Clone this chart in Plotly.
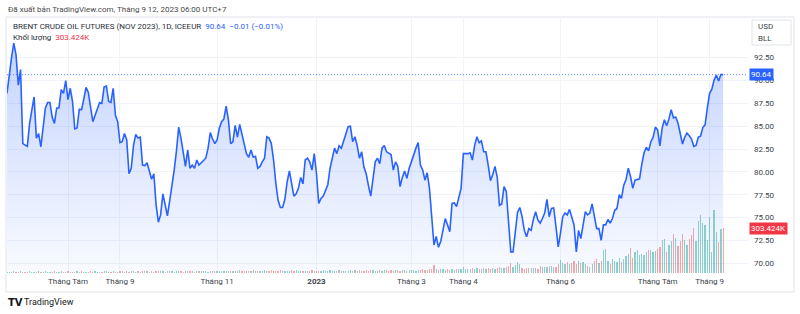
import plotly.graph_objects as go
import pandas as pd

# ---------------- data ----------------
start_date = "2022-06-23"   # first visible trading day (daily bars, Mon-Fri)

close = [
    88.6, 90.8, 92.5, 94.1, 92.8, 89.5, 91.2, 83.1, 82.9, 82.8,
    85.3, 86.8, 88.2, 83.7, 84.2, 82.75, 84.9, 87.0, 87.6, 87.6,
    86.0, 85.3, 87.0, 87.0, 89.0, 88.6, 90.0, 87.9, 89.15, 87.7,
    84.7, 84.8, 86.85, 86.8, 88.0, 89.25, 88.7, 87.1, 85.5, 86.2,
    86.8, 87.6, 87.5, 89.3, 89.4, 87.7, 87.6, 89.15, 86.2, 85.5,
    83.2, 83.3, 84.2, 83.5, 79.8, 80.4, 82.9, 84.1, 83.7, 83.8,
    80.75, 80.7, 81.0, 80.0, 79.2, 79.8, 76.4, 74.5, 75.3, 77.6,
    76.5, 75.2, 76.8, 78.4, 80.2, 82.3, 84.9, 83.7, 82.0, 80.6,
    82.4, 80.4, 80.75, 80.4, 81.3, 80.75, 81.0, 81.2, 81.5, 82.6,
    84.3, 83.6, 83.1, 83.5, 84.8, 85.5, 85.8, 87.2, 85.7, 83.1,
    83.3, 85.1, 83.8, 85.2, 84.0, 83.0, 82.0, 81.6, 82.4, 81.6,
    81.7, 80.4, 80.6, 81.1, 81.5, 83.85, 83.7, 83.1, 81.3, 78.75,
    76.9, 76.1, 76.1, 77.0, 78.9, 80.1, 78.75, 77.35, 77.6, 78.2,
    79.4, 78.7, 81.3, 81.5, 81.1, 80.2, 82.0, 79.8, 76.55, 77.1,
    77.35, 78.0, 78.6, 80.4, 81.65, 82.6, 82.0, 82.85, 82.6, 83.4,
    84.4, 84.95, 85.0, 83.3, 83.85, 82.9, 81.5, 82.2, 80.5, 79.8,
    78.5, 77.35, 79.2, 81.1, 81.5, 80.9, 82.6, 82.9, 82.2, 82.0,
    81.9, 80.2, 81.1, 80.6, 78.4, 79.4, 80.1, 79.3, 80.4, 81.1,
    81.9, 82.6, 83.2, 80.75, 80.2, 79.1, 79.9, 78.2, 75.1, 72.0,
    72.95, 71.75, 72.4, 73.8, 74.9, 74.2, 73.45, 76.55, 76.6, 76.2,
    77.1, 78.2, 82.0, 82.0, 82.0, 82.1, 81.3, 82.9, 83.85, 83.2,
    83.4, 82.2, 82.2, 80.75, 79.05, 79.7, 80.6, 79.4, 76.35, 76.5,
    78.4, 77.85, 74.0, 71.25, 71.25, 73.6, 75.6, 76.1, 75.1, 73.6,
    72.9, 73.8, 73.6, 74.8, 75.65, 74.75, 74.4, 74.9, 75.5, 77.0,
    75.1, 76.0, 76.05, 74.0, 71.8, 73.3, 75.1, 75.5, 75.3, 75.9,
    75.1, 74.2, 71.25, 73.6, 72.7, 74.4, 75.65, 75.3, 75.5, 76.5,
    75.1, 73.8, 73.8, 72.5, 74.2, 74.2, 74.8, 74.4, 74.9, 75.8,
    76.0, 77.5, 77.1, 78.55, 79.15, 80.4, 79.5, 78.2, 79.1, 79.15,
    79.25, 80.85, 82.1, 82.7, 82.3, 83.3, 83.8, 84.9, 84.6, 82.85,
    84.8, 85.7, 85.05, 85.8, 86.8, 85.9, 86.0, 85.35, 84.25, 83.05,
    83.8, 84.25, 83.95, 83.6, 82.8, 82.9, 83.8, 83.9, 84.85, 85.15,
    87.0, 88.6, 89.05, 90.05, 90.6, 89.95, 90.65, 90.64,
]

volume_k = [
    8, 10, 9, 11, 7, 9, 12, 8, 10, 9,
    11, 8, 9, 10, 12, 8, 9, 11, 10, 8,
    9, 12, 10, 8, 11, 9, 10, 12, 9, 8,
    10, 11, 9, 12, 10, 8, 9, 11, 10, 12,
    9, 10, 8, 11, 12, 9, 10, 11, 8, 10,
    11, 12, 9, 13, 10, 12, 11, 9, 14, 10,
    12, 11, 13, 9, 12, 10, 14, 11, 12, 13,
    10, 11, 14, 12, 9, 13, 11, 12, 10, 14,
    12, 11, 13, 10, 12, 14, 11, 13, 12, 10,
    14, 12, 13, 11, 15, 12, 13, 14, 11, 12,
    14, 16, 12, 18, 15, 13, 17, 14, 16, 19,
    13, 15, 17, 14, 18, 16, 15, 19, 14, 17,
    16, 18, 15, 13, 17, 16, 19, 14, 18, 15,
    13, 16, 17, 15, 14, 18, 12, 16, 17, 15,
    18, 14, 16, 19, 15, 17, 14, 18, 16, 15,
    17, 15, 19, 16, 18, 14, 20, 17, 15, 19,
    16, 18, 21, 15, 17, 19, 16, 20, 18, 15,
    19, 17, 22, 18, 16, 20, 19, 17, 21, 18,
    20, 16, 22, 19, 24, 20, 23, 27, 25, 54,
    30, 22, 26, 24, 21, 25, 23, 27, 22, 26,
    24, 28, 40, 30, 26, 29, 33, 27, 31, 25,
    29, 34, 28, 32, 30, 36, 29, 33, 38, 31,
    35, 42, 45, 68, 40, 52,
    72, 61, 32, 27, 36, 36, 32, 36, 36, 29,
    45, 38, 41, 38, 45, 50, 41, 38, 61, 88,
    66, 61, 77, 61, 66, 84, 61, 79, 66, 72,
    61, 50, 43, 61, 84, 95, 68, 84, 158, 163,
    84, 61, 95, 84, 72, 100, 77, 95, 118, 129,
    167, 100, 140, 158, 122, 129, 122, 145, 158, 156,
    145, 152, 163, 174, 224, 231, 140, 190, 220, 265,
    235, 186, 220, 265, 224, 190, 231, 258, 306, 220,
    355, 396, 339, 326, 226, 378, 140, 430, 281, 213,
    299, 303.424,
]

month_ticks = ["2022-08-01", "2022-09-01", "2022-11-01", "2023-01-02", "2023-03-01",
               "2023-04-03", "2023-06-01", "2023-08-01", "2023-09-01"]
month_labels = ["Tháng Tám", "Tháng 9", "Tháng 11", "<b>2023</b>", "Tháng 3",
                "Tháng 4", "Tháng 6", "Tháng Tám", "Tháng 9"]
price_ticks = [70.0, 72.5, 75.0, 77.5, 80.0, 82.5, 85.0, 87.5, 90.0, 92.5]

change_abs = -0.01
change_pct = -0.01

# ---------------- figure ----------------
W, H = 800, 314
L, R, T, B = 7, 52, 18, 41
PW, PH = W - L - R, H - T - B

def fx(px):
    return (px - L) / PW

def fy(py):
    return (H - B - py) / PH

BLUE = "#2962ff"
TEAL = "rgba(38,166,154,0.5)"
RED = "rgba(239,83,80,0.5)"
GRID = "#f0f3fa"
TXT = "#3b3f4a"
FONT = "Roboto, Liberation Sans, sans-serif"

dates = pd.bdate_range(start_date, periods=len(close))
vol_colors = [TEAL if i == 0 or close[i] >= close[i - 1] else RED for i in range(len(close))]

fig = go.Figure()

fig.add_trace(go.Scatter(
    x=dates, y=close, mode="lines",
    line=dict(color=BLUE, width=1.6),
    fill="tozeroy",
    fillgradient=dict(type="vertical", start=68.9, stop=max(close),
                      colorscale=[[0, "rgba(41,98,255,0.03)"], [1, "rgba(41,98,255,0.27)"]]),
    yaxis="y", hoverinfo="skip",
))

fig.add_trace(go.Bar(
    x=dates, y=volume_k, marker=dict(color=vol_colors, line=dict(width=0)),
    width=0.55 * 86400000, yaxis="y2", hoverinfo="skip",
))

last_price = close[-1]
last_vol = volume_k[-1]

fig.update_layout(
    width=W, height=H,
    margin=dict(l=L, r=R, t=T, b=B),
    paper_bgcolor="white", plot_bgcolor="white",
    showlegend=False,
    font=dict(family=FONT, size=8, color=TXT),
    xaxis=dict(
        type="date",
        rangebreaks=[dict(bounds=["sat", "mon"])],
        range=[dates[0], "2023-09-26"],
        tickvals=month_ticks, ticktext=month_labels,
        showgrid=True, gridcolor=GRID, gridwidth=1,
        ticks="", showline=False, zeroline=False,
        tickfont=dict(size=8, color=TXT),
        ticklabelstandoff=2,
    ),
    yaxis=dict(
        side="right", range=[68.94, 96.84],
        tickvals=price_ticks, tickformat=".2f",
        showgrid=True, gridcolor=GRID, gridwidth=1,
        ticks="", showline=False, zeroline=False,
        tickfont=dict(size=8, color=TXT),
        ticklabelstandoff=5,
    ),
    yaxis2=dict(
        overlaying="y", range=[0, 1731], visible=False,
    ),
    bargap=0,
)

shapes = []
# outer frame
shapes.append(dict(type="rect", xref="paper", yref="paper",
                   x0=fx(6), x1=fx(794), y0=fy(17), y1=fy(292),
                   line=dict(color="#e0e3eb", width=1), fillcolor="rgba(0,0,0,0)", layer="below"))
# last price dotted line
shapes.append(dict(type="line", xref="paper", yref="y", x0=0, x1=1,
                   y0=last_price, y1=last_price,
                   line=dict(color="rgba(41,98,255,0.75)", width=1, dash="1px,2px")))
# currency box
shapes.append(dict(type="rect", xref="paper", yref="paper",
                   x0=fx(752), x1=fx(791), y0=fy(20), y1=fy(45),
                   line=dict(color="#e0e3eb", width=1), fillcolor="white"))
fig.update_layout(shapes=shapes)

ann = []
ann.append(dict(xref="paper", yref="paper", x=fx(6), y=fy(9.5), xanchor="left", yanchor="middle",
                text="Đã xuất bản TradingView.com, Tháng 9 12, 2023 06:00 UTC+7",
                showarrow=False, font=dict(size=8, color="#4a4a4a")))
ann.append(dict(xref="paper", yref="paper", x=fx(11), y=fy(26.5), xanchor="left", yanchor="middle",
                text=("BRENT CRUDE OIL FUTURES (NOV 2023), 1D, ICEEUR  "
                      f"<span style='color:{BLUE}'>{last_price:.2f}  "
                      f"{change_abs:+.2f} ({change_pct:+.2f}%)</span>").replace("-", "−"),
                showarrow=False, font=dict(size=8, color="#2a2e39")))
ann.append(dict(xref="paper", yref="paper", x=fx(11), y=fy(37.5), xanchor="left", yanchor="middle",
                text=f"Khối lượng  <span style='color:#f23645'>{last_vol:.3f}K</span>",
                showarrow=False, font=dict(size=8, color="#2a2e39")))
# price tag
ann.append(dict(xref="paper", yref="y", x=fx(749), y=last_price, xanchor="left", yanchor="middle",
                text=f"{last_price:.2f}", showarrow=False, bgcolor=BLUE, borderpad=1,
                font=dict(size=8, color="white")))
# volume tag
ann.append(dict(xref="paper", yref="y2", x=fx(749), y=last_vol, xanchor="left", yanchor="middle",
                text=f"{last_vol:.3f}K", showarrow=False, bgcolor="#f23645", borderpad=1,
                font=dict(size=8, color="white")))
# currency
ann.append(dict(xref="paper", yref="paper", x=fx(756), y=fy(27), xanchor="left", yanchor="middle",
                text="USD", showarrow=False, font=dict(size=8, color=TXT)))
ann.append(dict(xref="paper", yref="paper", x=fx(756), y=fy(38), xanchor="left", yanchor="middle",
                text="BLL", showarrow=False, font=dict(size=8, color=TXT)))
# logo
ann.append(dict(xref="paper", yref="paper", x=fx(6), y=fy(302), xanchor="left", yanchor="middle",
                text="<b>TV</b>", showarrow=False, font=dict(size=10, color="#131722", family="DejaVu Sans")))
ann.append(dict(xref="paper", yref="paper", x=fx(22), y=fy(302), xanchor="left", yanchor="middle",
                text="TradingView", showarrow=False, font=dict(size=9, color="#131722")))
fig.update_layout(annotations=ann)

fig.write_html("out.html")
